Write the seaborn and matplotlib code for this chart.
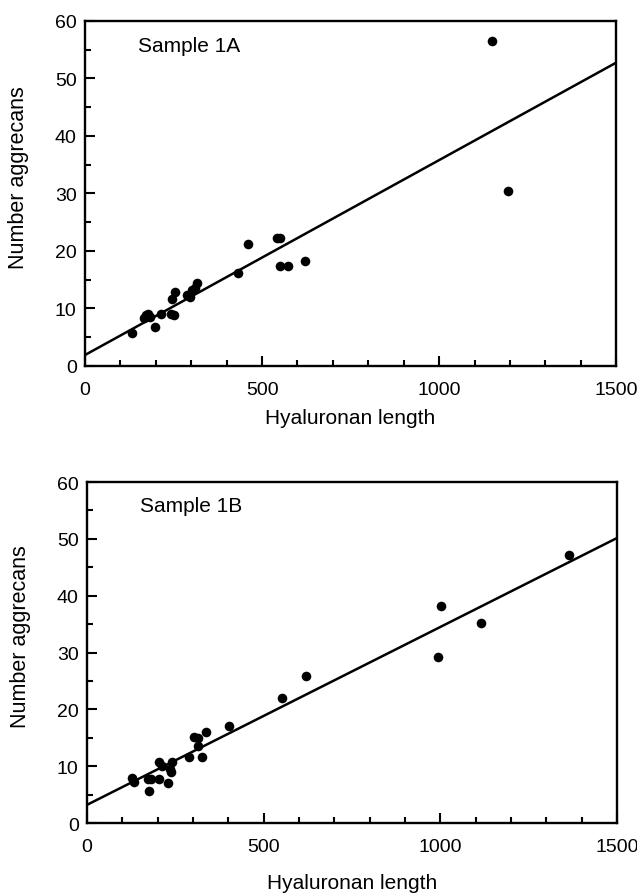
import numpy as np
import pandas as pd
import matplotlib
matplotlib.use("Agg")
import matplotlib.pyplot as plt
from matplotlib.ticker import MultipleLocator
import seaborn as sns

# sample 1A: hyaluronan length vs number of aggrecans
len_1a = [132, 166, 172, 178, 185, 197, 215, 243, 252, 246, 254, 289, 296,
          303, 310, 315, 433, 461, 542, 552, 550, 573, 622, 1148, 1193]
agg_1a = [5.8, 8.3, 8.8, 9.1, 8.5, 6.8, 9.1, 9.1, 8.9, 11.6, 12.9, 12.3, 12.0,
          13.2, 13.6, 14.4, 16.1, 21.2, 22.2, 22.2, 17.3, 17.3, 18.2, 56.5, 30.5]
fit_1a = (1.9, 0.0339)  # intercept, slope

# sample 1B
len_1b = [126, 132, 172, 176, 180, 203, 204, 213, 228, 236, 241, 239, 290,
          303, 313, 314, 325, 336, 402, 552, 621, 992, 1001, 1115, 1364]
agg_1b = [8.0, 7.2, 7.8, 5.6, 7.8, 10.7, 7.8, 10.1, 7.0, 9.5, 10.7, 8.9, 11.6,
          15.1, 15.0, 13.6, 11.7, 16.0, 17.0, 22.0, 25.8, 29.2, 38.1, 35.2, 47.1]
fit_1b = (3.2, 0.0313)

labels = ["Sample 1A", "Sample 1B"]
x_range = [0, 1500]

sns.set_theme(style="ticks")
plt.rcParams['font.family'] = ['Liberation Sans', 'DejaVu Sans']
plt.rcParams['text.color'] = 'black'
plt.rcParams['axes.labelcolor'] = 'black'


def panel(ax, xs, ys, fit, label, pads):
    df = pd.DataFrame({'x': xs, 'y': ys})
    sns.scatterplot(data=df, x='x', y='y', ax=ax, color='black', s=48,
                    edgecolor='black', linewidth=0, zorder=3)
    fx = np.array(x_range, dtype=float)
    line = pd.DataFrame({'x': fx, 'y': fit[0] + fit[1] * fx})
    sns.lineplot(data=line, x='x', y='y', ax=ax, color='black', lw=1.8)
    ax.set_xlim(0, 1500)
    ax.set_ylim(0, 60)
    ax.xaxis.set_major_locator(MultipleLocator(500))
    ax.xaxis.set_minor_locator(MultipleLocator(100))
    ax.yaxis.set_major_locator(MultipleLocator(10))
    ax.yaxis.set_minor_locator(MultipleLocator(5))
    ax.tick_params(which='both', direction='in', width=1.5, colors='black',
                   labelsize=14)
    ax.tick_params(which='major', length=7)
    ax.tick_params(which='minor', length=4)
    ax.tick_params(axis='x', pad=pads[0])
    ax.tick_params(axis='y', pad=6)
    for sp in ax.spines.values():
        sp.set_linewidth(1.7)
        sp.set_color('black')
    ax.set_xlabel("Hyaluronan length", fontsize=15, labelpad=pads[1])
    ax.set_ylabel("Number aggrecans", fontsize=15.5)
    ax.yaxis.set_label_coords(-0.105, 0.55)
    ax.text(0.10, 0.93, label, transform=ax.transAxes, fontsize=15,
            va='center', ha='left')


fig = plt.figure(figsize=(6.37, 8.95), dpi=100)
ax1 = fig.add_axes([0.1334, 0.590, 0.834, 0.3855])
ax2 = fig.add_axes([0.1366, 0.0793, 0.832, 0.381])

panel(ax1, len_1a, agg_1a, fit_1a, labels[0], (11, 7))
panel(ax2, len_1b, agg_1b, fit_1b, labels[1], (11, 13))

fig.savefig('out.png', dpi=100)
